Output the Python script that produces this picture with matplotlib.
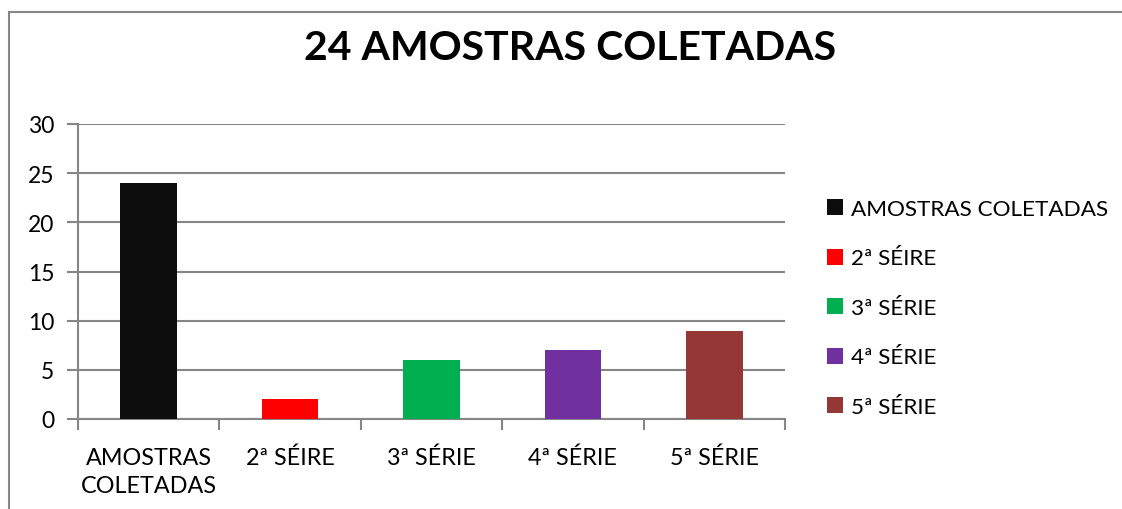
import matplotlib
matplotlib.use("Agg")
import matplotlib.pyplot as plt
from matplotlib.patches import Rectangle

categories = ["AMOSTRAS\nCOLETADAS", "2ª SÉIRE", "3ª SÉRIE", "4ª SÉRIE", "5ª SÉRIE"]
legend_labels = ["AMOSTRAS COLETADAS", "2ª SÉIRE", "3ª SÉRIE", "4ª SÉRIE", "5ª SÉRIE"]
values = [24, 2, 6, 7, 9]
colors = ["#0d0d0d", "#ff0000", "#00b050", "#7030a0", "#953735"]
yticks = [0, 5, 10, 15, 20, 25, 30]
title = "24 AMOSTRAS COLETADAS"

plt.rcParams['font.family'] = ['Lato', 'DejaVu Sans']

W, H = 1122, 510
fig = plt.figure(figsize=(W / 100, H / 100), dpi=100)
fig.patch.set_facecolor("white")

grey = "#868686"
# chart border
fig.add_artist(Rectangle((8.5 / W, -0.1), 1.2, (H - 12.5) / H + 0.1,
                         transform=fig.transFigure, fill=False,
                         edgecolor=grey, linewidth=1.5))

ax = fig.add_axes([78 / W, (H - 420) / H, (785 - 78) / W, (420 - 125) / H])
x = list(range(len(values)))
for i, (v, c, lab) in enumerate(zip(values, colors, legend_labels)):
    ax.bar(i, v, width=0.4, color=c, label=lab, zorder=3)

ax.set_xlim(-0.5, len(values) - 0.5)
ax.set_ylim(0, 30)
ax.set_yticks(yticks)
ax.set_yticklabels([str(t) for t in yticks], fontsize=16.5)
ax.yaxis.grid(True, color=grey, linewidth=1.5, zorder=0)
ax.set_axisbelow(True)

ax.set_xticks([i - 0.5 for i in range(len(values) + 1)])
ax.set_xticklabels([])
ax.set_xticks(x, minor=True)
ax.set_xticklabels(categories, minor=True, fontsize=16.8, linespacing=1.45)
ax.tick_params(axis='x', which='minor', length=0, pad=20)
ax.tick_params(axis='x', which='major', length=8, width=1.5, color=grey, direction='out')
ax.tick_params(axis='y', length=8, width=1.5, color=grey, direction='out', pad=9)

for s in ["top", "right"]:
    ax.spines[s].set_visible(False)
for s in ["left", "bottom"]:
    ax.spines[s].set_color(grey)
    ax.spines[s].set_linewidth(1.5)

fig.text(570 / W, (H - 49) / H, title, ha="center", va="center",
         fontsize=29.5, fontweight="bold", color="black")

leg = ax.legend(loc="upper left", bbox_to_anchor=(827 / W, (H - 200) / H),
                bbox_transform=fig.transFigure, frameon=False, fontsize=16.2,
                handlelength=0.72, handleheight=0.72, handletextpad=0.35,
                labelspacing=1.31, borderpad=0, borderaxespad=0)

fig.savefig("out.png", dpi=100)
